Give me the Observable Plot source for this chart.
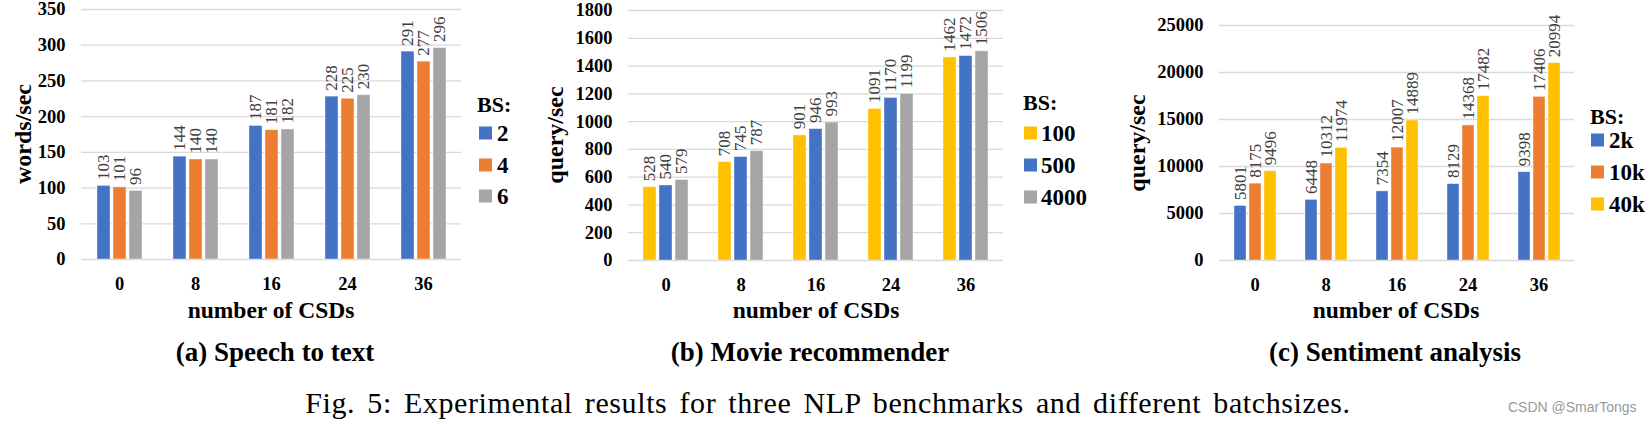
<!DOCTYPE html>
<html>
<head>
<meta charset="utf-8">
<script src="https://cdn.jsdelivr.net/npm/d3@7"></script>
<script src="https://cdn.jsdelivr.net/npm/@observablehq/plot@0.6"></script>
<style>
  html, body { margin: 0; padding: 0; background: #fff; }
  #page { position: relative; width: 1651px; height: 424px; overflow: hidden; background: #fff;
          font-family: "Liberation Serif", "Times New Roman", serif; color: #000; }
  #page svg, #page svg text { font-family: "Liberation Serif", "Times New Roman", serif !important; }
  .abs { position: absolute; white-space: nowrap; line-height: 1; }
  .ctr { transform: translate(-50%, -50%); }
  .ylab { transform: translate(-50%, -50%) rotate(-90deg); font-weight: bold; font-size: 24px; }
  .xlab { font-weight: bold; font-size: 23.5px; }
  .sub { font-weight: bold; font-size: 27px; }
  .legtitle { font-weight: bold; font-size: 22px; transform: translateY(-50%); }
  .legtext { font-weight: bold; font-size: 23px; transform: translateY(-50%); }
  .sw { position: absolute; width: 13px; height: 13px; transform: translateY(-50%); }
</style>
</head>
<body>
<div id="page"></div>
<script>
// ---------- data ----------
const csds = ["0", "8", "16", "24", "36"];

const speechSeries = ["2", "4", "6"];
const speechBS2 = [103, 144, 187, 228, 291];
const speechBS4 = [101, 140, 181, 225, 277];
const speechBS6 = [96, 140, 182, 230, 296];
const speechTicks = [0, 50, 100, 150, 200, 250, 300, 350];

const movieSeries = ["100", "500", "4000"];
const movieBS100 = [528, 708, 901, 1091, 1462];
const movieBS500 = [540, 745, 946, 1170, 1472];
const movieBS4000 = [579, 787, 993, 1199, 1506];
const movieTicks = [0, 200, 400, 600, 800, 1000, 1200, 1400, 1600, 1800];

const sentSeries = ["2k", "10k", "40k"];
const sentBS2k = [5801, 6448, 7354, 8129, 9398];
const sentBS10k = [8175, 10312, 12007, 14368, 17406];
const sentBS40k = [9496, 11974, 14889, 17482, 20994];
const sentTicks = [0, 5000, 10000, 15000, 20000, 25000];

const BLUE = "#4472C4", ORANGE = "#ED7D31", GRAY = "#A5A5A5", YELLOW = "#FFC000";

const yLabels = ["words/sec", "query/sec", "query/sec"];
const xLabel = "number of CSDs";
const subCaptions = ["(a) Speech to text", "(b) Movie recommender", "(c) Sentiment analysis"];
const figCaption = "Fig. 5: Experimental results for three NLP benchmarks and different batchsizes.";
const watermark = "CSDN @SmarTongs";

const SERIF = "'Liberation Serif', 'Times New Roman', serif";

function table(series, arrays) {
  const rows = [];
  series.forEach((s, si) => arrays[si].forEach((v, ci) => rows.push({csd: csds[ci], bs: s, value: v})));
  return rows;
}

const charts = [
  {series: speechSeries, data: table(speechSeries, [speechBS2, speechBS4, speechBS6]), colors: [BLUE, ORANGE, GRAY],
   ticks: speechTicks, left: 0, ml: 80, pw: 381, mt: 9, bottom: 259,
   ylab: [22.5, 134], xlab: [271, 311], sub: [275, 352],
   leg: {x: 477, titleY: 105, swX: 479, txX: 497, y0: 133, dy: 31.5}},
  {series: movieSeries, data: table(movieSeries, [movieBS100, movieBS500, movieBS4000]), colors: [YELLOW, BLUE, GRAY],
   ticks: movieTicks, left: 570, ml: 56, pw: 379, mt: 10, bottom: 260,
   ylab: [555, 135], xlab: [816, 311], sub: [810, 352],
   leg: {x: 1023, titleY: 103, swX: 1024, txX: 1041, y0: 133, dy: 32}},
  {series: sentSeries, data: table(sentSeries, [sentBS2k, sentBS10k, sentBS40k]), colors: [BLUE, ORANGE, YELLOW],
   ticks: sentTicks, left: 1150, ml: 69, pw: 355, mt: 25, bottom: 260,
   ylab: [1137, 142.5], xlab: [1396, 311], sub: [1395, 352],
   leg: {x: 1590, titleY: 117, swX: 1591, txX: 1609, y0: 140, dy: 32}}
];

const page = document.getElementById("page");

function addText(txt, cls, x, y, extraStyle) {
  const d = document.createElement("div");
  d.className = "abs " + cls;
  d.textContent = txt;
  d.style.left = x + "px";
  d.style.top = y + "px";
  if (extraStyle) Object.assign(d.style, extraStyle);
  page.appendChild(d);
  return d;
}

charts.forEach((c, k) => {
  const mb = 40, mr = 5;
  const plot = Plot.plot({
    width: c.ml + c.pw + mr,
    height: c.bottom + mb,
    marginLeft: c.ml,
    marginRight: mr,
    marginTop: c.mt,
    marginBottom: mb,
    style: {fontFamily: SERIF, fontSize: "18.5px",
            fontWeight: "bold", color: "#000", background: "transparent", overflow: "visible"},
    fx: {domain: csds, padding: 0, label: null, tickSize: 0, tickPadding: 17, axis: "bottom"},
    x: {domain: c.series, axis: null, paddingInner: 0.2, paddingOuter: 0.87},
    y: {domain: [0, d3.max(c.ticks)], ticks: c.ticks, tickSize: 0, tickPadding: 16, label: null,
        tickFormat: d => String(d)},
    color: {domain: c.series, range: c.colors},
    marks: [
      Plot.ruleY(c.ticks, {stroke: "#d9d9d9", strokeWidth: 1.3}),
      Plot.barY(c.data, {fx: "csd", x: "bs", y: "value", fill: "bs",
                         stroke: "#ffffff", strokeOpacity: 0.5, strokeWidth: 0.8}),
      Plot.text(c.data, {fx: "csd", x: "bs", y: "value", text: d => String(d.value),
                         rotate: -90, textAnchor: "start", lineAnchor: "middle", dy: -6,
                         fontFamily: SERIF, fontSize: 17, fontWeight: "normal", fill: "#404040"})
    ]
  });
  const holder = document.createElement("div");
  holder.style.position = "absolute";
  holder.style.left = c.left + "px";
  holder.style.top = "0px";
  holder.appendChild(plot);
  page.appendChild(holder);

  addText(yLabels[k], "ylab", c.ylab[0], c.ylab[1]);
  addText(xLabel, "xlab ctr", c.xlab[0], c.xlab[1]);
  addText(subCaptions[k], "sub ctr", c.sub[0], c.sub[1]);

  // legend
  addText("BS:", "legtitle", c.leg.x, c.leg.titleY);
  c.series.forEach((s, i) => {
    const cy = c.leg.y0 + i * c.leg.dy;
    const sw = document.createElement("div");
    sw.className = "sw";
    sw.style.left = c.leg.swX + "px";
    sw.style.top = cy + "px";
    sw.style.background = c.colors[i];
    page.appendChild(sw);
    addText(s, "legtext", c.leg.txX, cy);
  });
});

addText(figCaption, "ctr", 828, 402.6, {fontSize: "30px", letterSpacing: "0.6px", wordSpacing: "4px"});
addText(watermark, "", 1508, 407, {fontFamily: "'Liberation Sans', Arial, sans-serif", fontSize: "14px",
        color: "#9a9a9a", transform: "translateY(-50%)"});
</script>
</body>
</html>
